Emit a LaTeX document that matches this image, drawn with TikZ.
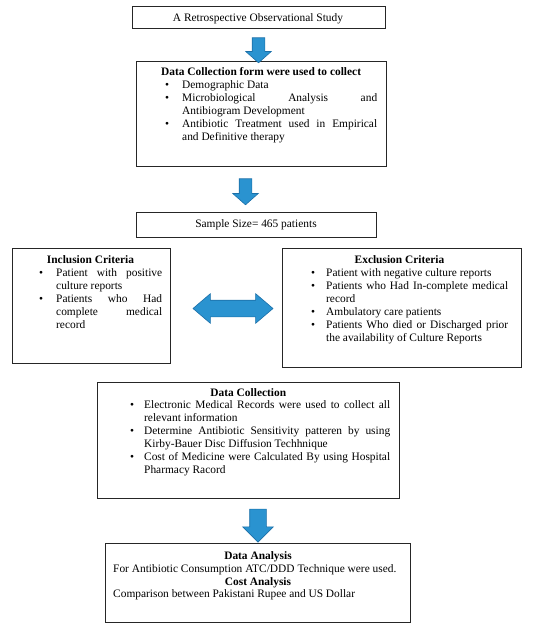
\documentclass[tikz,border=0pt]{standalone}
\usepackage{fontspec}
\setmainfont{Liberation Serif}
\usetikzlibrary{shapes.arrows}
\definecolor{arrfill}{HTML}{2A93D0}
\definecolor{arrline}{HTML}{1B6FA8}
\newcommand\bul[2]{\hangindent=#1\hangafter=1\noindent\makebox[#1][l]{\hspace{#2}\textbullet}}
\tikzset{
  box/.style={draw=black!85, line width=0.8pt, inner sep=0pt, fill=white},
  txt/.style={inner sep=0pt, font=\fontsize{11.4}{13}\selectfont},
  para/.style={txt, anchor=north west, align=justify},
  blockarrow/.style={single arrow, draw=arrline, fill=arrfill, line width=0.6pt, inner xsep=0pt, rotate=-90},
  dblarrow/.style={double arrow, draw=arrline, fill=arrfill, line width=0.6pt, inner xsep=0pt}
}
\begin{document}
\begin{tikzpicture}[x=1pt,y=-1pt]
\useasboundingbox (0,0) rectangle (550,630);
\hyphenpenalty=10000 \exhyphenpenalty=10000
% boxes
\node[box, minimum width=253pt, minimum height=22pt] (b1) at (258.5,17) {};
\node[box, minimum width=250pt, minimum height=105pt] (b2) at (261,113.5) {};
\node[box, minimum width=240pt, minimum height=25pt] (b3) at (256,224.5) {};
\node[box, minimum width=158pt, minimum height=115pt] (b4) at (91,305.5) {};
\node[box, minimum width=239pt, minimum height=119pt] (b5) at (401.5,307.5) {};
\node[box, minimum width=302pt, minimum height=116pt] (b6) at (248,440) {};
\node[box, minimum width=305pt, minimum height=79pt] (b7) at (257.5,582.5) {};
% arrows
\node[blockarrow, minimum height=25pt, inner ysep=6pt, single arrow head extend=6.5pt, single arrow tip angle=97] (a1) at (258.5,47.5) {};
\node[blockarrow, minimum height=26pt, inner ysep=6pt, single arrow head extend=6.5pt, single arrow tip angle=97] (a2) at (245.5,189) {};
\node[blockarrow, minimum height=33pt, inner ysep=8pt, single arrow head extend=7pt, single arrow tip angle=90] (a3) at (258,521.5) {};
\node[dblarrow, minimum height=80pt, inner ysep=8pt, double arrow head extend=6.5pt, double arrow tip angle=81] (a4) at (233,308.5) {};
% texts
\node[txt, anchor=base] (t1) at (258,21) {A Retrospective Observational Study};
\node[para, text width=216pt] (t2) at (161,67.4) {\textbf{Data Collection form were used to collect}\par
\bul{21pt}{4pt}Demographic Data\par
\bul{21pt}{4pt}Microbiological Analysis and\linebreak Antibiogram Development\par
\bul{21pt}{4pt}Antibiotic Treatment used in Empirical\linebreak and Definitive therapy\par};
\node[txt, anchor=base] (t3) at (256,227.5) {Sample Size= 465 patients};
\node[txt, anchor=base] (t4h) at (90.5,263.6) {\textbf{Inclusion Criteria}};
\node[para, text width=123pt] (t4) at (39,268.1) {\bul{17pt}{0pt}Patient with positive\linebreak culture reports\par
\bul{17pt}{0pt}Patients who Had\linebreak complete medical\linebreak record\par};
\node[txt, anchor=base] (t5h) at (399.5,263.6) {\textbf{Exclusion Criteria}};
\node[para, text width=197pt] (t5) at (311,268.1) {\bul{15pt}{0pt}Patient with negative culture reports\par
\bul{15pt}{0pt}Patients who Had In-complete medical\linebreak record\par
\bul{15pt}{0pt}Ambulatory care patients\par
\bul{15pt}{0pt}Patients Who died or Discharged prior\linebreak the availability of Culture Reports\par};
\node[txt, anchor=base] (t6h) at (248.3,396) {\textbf{Data Collection}};
\node[para, text width=260pt] (t6) at (130,400.7) {\bul{14pt}{0pt}Electronic Medical Records were used to collect all\linebreak relevant information\par
\bul{14pt}{0pt}Determine Antibiotic Sensitivity patteren by using\linebreak Kirby-Bauer Disc Diffusion Techhnique\par
\bul{14pt}{0pt}Cost of Medicine were Calculated By using Hospital\linebreak Pharmacy Racord\par};
\node[txt, anchor=base] (t7a) at (258,559.3) {\textbf{Data Analysis}};
\node[txt, anchor=base west] (t7b) at (113,572.3) {For Antibiotic Consumption ATC/DDD Technique were used.};
\node[txt, anchor=base] (t7c) at (258,585.3) {\textbf{Cost Analysis}};
\node[txt, anchor=base west] (t7d) at (113,597.6) {Comparison between Pakistani Rupee and US Dollar};
\end{tikzpicture}
\end{document}
